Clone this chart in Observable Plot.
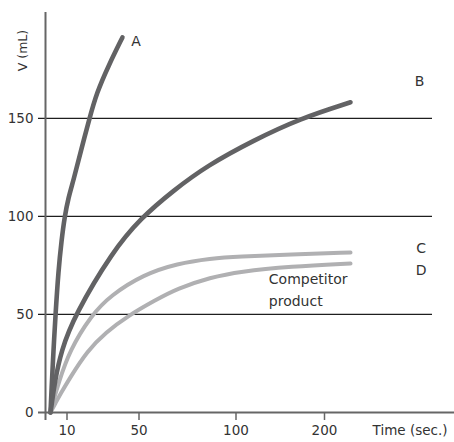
<!DOCTYPE html>
<html><head><meta charset="utf-8">
<script src="https://cdn.jsdelivr.net/npm/d3@7"></script>
<script src="https://cdn.jsdelivr.net/npm/@observablehq/plot@0.6"></script>
<style>
html,body{margin:0;padding:0;background:#fff;}
</style></head><body><div id="chart"></div>
<script>
// Axis ticks
const timeTicks = [10, 50, 100, 200];
const volumeTicks = [0, 50, 100, 150];
const gridValues = [50, 100, 150];

// Curves: [time (sec.), volume (mL)]
const curveA = [[0,0],[0.6,11.2],[1.8,31.6],[3.0,49.5],[4.8,72.4],[6.7,87.8],[8.5,99.5],[10.8,109.7],[13.6,118.4],[17.5,132.7],[22.5,150],[26.4,162.8],[33.1,177],[40.8,191.3]];
const curveB = [[0,0],[0.8,4.6],[2.4,14.8],[6.5,31.6],[14.2,49.5],[35.3,82.1],[50.8,99],[67.8,113.3],[85.3,126],[119.8,138.8],[172.9,150],[229.4,158.2]];
const curveC = [[0,0],[1.8,6.1],[4.8,14.8],[11.4,31.6],[23.4,49.5],[34.2,59.7],[52.3,70.4],[69.8,76],[86.9,78.6],[102.8,79.6],[161.6,80.6],[229.4,81.6]];
const curveD = [[0,0],[3.0,4.8],[6.1,9.5],[11.4,17.4],[21.4,31.6],[31.4,40.8],[44.2,49.5],[58.0,57.1],[69.8,63.3],[86.9,68.9],[104.0,71.9],[161.6,74.5],[229.4,76]];

const seriesNames = ["A", "B", "C", "D"];
const seriesCurves = [curveA, curveB, curveC, curveD];

// Annotations
const seriesLabelText = ["A", "B", "C", "D"];
const seriesLabelTime = [48.4, 307.3, 309.3, 309.3];
const seriesLabelVolume = [189.1, 168.9, 83.5, 72.4];
const noteText = ["Competitor", "product"];
const noteTime = [137.1, 137.1];
const noteVolume = [67.6, 56.6];

const rows = seriesNames.flatMap((s, i) => seriesCurves[i].map(([t, v]) => ({series: s, t, v})));
const seriesLabels = seriesLabelText.map((text, i) => ({text, t: seriesLabelTime[i], v: seriesLabelVolume[i]}));
const notes = noteText.map((text, i) => ({text, t: noteTime[i], v: noteVolume[i]}));

const dark = rows.filter(d => d.series === "A" || d.series === "B");
const light = rows.filter(d => d.series === "C" || d.series === "D");

const chart = Plot.plot({
  width: 454,
  height: 442,
  marginLeft: 45,
  marginRight: 0,
  marginTop: 12,
  marginBottom: 30,
  style: {fontFamily: "DejaVu Sans", fontSize: "13.5px", color: "#333", background: "#fff"},
  x: {type: "linear", domain: [0, 10, 50, 100, 200], range: [50, 66.5, 138.5, 235.5, 324]},
  y: {domain: [0, 204]},
  color: {domain: seriesNames, range: ["#626264", "#626264", "#b0b0b2", "#b0b0b2"]},
  marks: [
    Plot.ruleY(gridValues, {insetLeft: -7, insetRight: 22, stroke: "#1e1e1e", strokeWidth: 1.2}),
    Plot.line(light, {x: "t", y: "v", z: "series", stroke: "series", strokeWidth: 4, curve: "basis", strokeLinecap: "round"}),
    Plot.line(dark, {x: "t", y: "v", z: "series", stroke: "series", strokeWidth: 4.6, curve: "basis", strokeLinecap: "round"}),
    Plot.ruleY([0], {insetLeft: -7, stroke: "#666", strokeWidth: 2}),
    Plot.ruleX([0], {dx: -5, insetBottom: -8, stroke: "#666", strokeWidth: 2}),
    Plot.axisX({ticks: timeTicks, tickSize: 8, tickPadding: 5, stroke: "#666", strokeWidth: 1.5, fill: "#333", label: null}),
    Plot.axisY({ticks: volumeTicks, tickSize: 0, tickPadding: 12, fill: "#333", label: null}),
    Plot.text(seriesLabels, {x: "t", y: "v", text: "text", textAnchor: "middle", fill: "#333", fontSize: 14}),
    Plot.text(notes, {x: "t", y: "v", text: "text", textAnchor: "start", fill: "#333", fontSize: 14}),
    Plot.text(["Time (sec.)"], {frameAnchor: "bottom-right", textAnchor: "end", dx: -7, dy: 22, fill: "#333"}),
    Plot.text(["V (mL)"], {frameAnchor: "top-left", textAnchor: "middle", lineAnchor: "middle", rotate: -90, dx: -23, dy: 38, fill: "#333", fontSize: 12.5})
  ]
});
document.getElementById("chart").append(chart);
</script>
</body></html>
